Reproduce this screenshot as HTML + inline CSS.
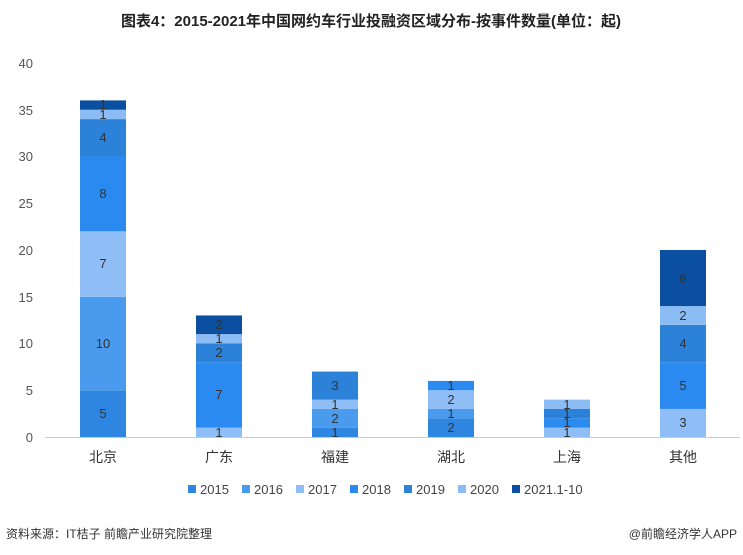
<!DOCTYPE html><html><head><meta charset="utf-8"><style>body{margin:0;background:#fff}svg{display:block}text{font-family:"Liberation Sans","Noto Sans CJK SC",sans-serif}</style></head><body>
<svg width="743" height="555" xmlns="http://www.w3.org/2000/svg">
<text x="371" y="26" text-anchor="middle" font-size="15" font-weight="bold" fill="#222">图表4：2015-2021年中国网约车行业投融资区域分布-按事件数量(单位：起)</text>
<g font-size="13" fill="#555" text-anchor="end">
<text x="33" y="442">0</text><text x="33" y="348">10</text><text x="33" y="255">20</text><text x="33" y="161">30</text><text x="33" y="68">40</text>
<text x="33" y="395">5</text><text x="33" y="302">15</text><text x="33" y="208">25</text><text x="33" y="115">35</text>
</g>
<line x1="45" y1="437.5" x2="740" y2="437.5" stroke="#ccc"/>
<g>
<rect x="80" y="390.25" width="46" height="46.75" fill="#2e86e0"/>
<rect x="80" y="296.75" width="46" height="93.5" fill="#4a9bee"/>
<rect x="80" y="231.3" width="46" height="65.45" fill="#8ebef5"/>
<rect x="80" y="156.5" width="46" height="74.8" fill="#2b8af0"/>
<rect x="80" y="119.1" width="46" height="37.4" fill="#2b82d8"/>
<rect x="80" y="109.75" width="46" height="9.35" fill="#8bbcf4"/>
<rect x="80" y="100.4" width="46" height="9.35" fill="#0a4fa0"/>

<rect x="196" y="427.65" width="46" height="9.35" fill="#8ebef5"/>
<rect x="196" y="362.2" width="46" height="65.45" fill="#2b8af0"/>
<rect x="196" y="343.5" width="46" height="18.7" fill="#2b82d8"/>
<rect x="196" y="334.15" width="46" height="9.35" fill="#8bbcf4"/>
<rect x="196" y="315.45" width="46" height="18.7" fill="#0a4fa0"/>

<rect x="312" y="427.65" width="46" height="9.35" fill="#2e86e0"/>
<rect x="312" y="408.95" width="46" height="18.7" fill="#4a9bee"/>
<rect x="312" y="399.6" width="46" height="9.35" fill="#8ebef5"/>
<rect x="312" y="371.55" width="46" height="28.05" fill="#2b82d8"/>

<rect x="428" y="418.3" width="46" height="18.7" fill="#2e86e0"/>
<rect x="428" y="408.95" width="46" height="9.35" fill="#4a9bee"/>
<rect x="428" y="390.25" width="46" height="18.7" fill="#8ebef5"/>
<rect x="428" y="380.9" width="46" height="9.35" fill="#2b8af0"/>

<rect x="544" y="427.65" width="46" height="9.35" fill="#8ebef5"/>
<rect x="544" y="418.3" width="46" height="9.35" fill="#2b8af0"/>
<rect x="544" y="408.95" width="46" height="9.35" fill="#2b82d8"/>
<rect x="544" y="399.6" width="46" height="9.35" fill="#8bbcf4"/>

<rect x="660" y="408.95" width="46" height="28.05" fill="#8ebef5"/>
<rect x="660" y="362.2" width="46" height="46.75" fill="#2b8af0"/>
<rect x="660" y="324.8" width="46" height="37.4" fill="#2b82d8"/>
<rect x="660" y="306.1" width="46" height="18.7" fill="#8bbcf4"/>
<rect x="660" y="250" width="46" height="56.1" fill="#0a4fa0"/>
</g>
<g font-size="13" fill="#333" text-anchor="middle">
<text x="103" y="418">5</text><text x="103" y="348">10</text><text x="103" y="268">7</text><text x="103" y="198">8</text><text x="103" y="142">4</text><text x="103" y="119">1</text><text x="103" y="109">1</text>
<text x="219" y="437">1</text><text x="219" y="399">7</text><text x="219" y="357">2</text><text x="219" y="343">1</text><text x="219" y="329">2</text>
<text x="335" y="437">1</text><text x="335" y="423">2</text><text x="335" y="409">1</text><text x="335" y="390">3</text>
<text x="451" y="432">2</text><text x="451" y="418">1</text><text x="451" y="404">2</text><text x="451" y="390">1</text>
<text x="567" y="437">1</text><text x="567" y="427">1</text><text x="567" y="418">1</text><text x="567" y="409">1</text>
<text x="683" y="427">3</text><text x="683" y="390">5</text><text x="683" y="348">4</text><text x="683" y="320">2</text><text x="683" y="283">6</text>
</g>
<g font-size="14" fill="#333" text-anchor="middle">
<text x="103" y="462">北京</text><text x="219" y="462">广东</text><text x="335" y="462">福建</text><text x="451" y="462">湖北</text><text x="567" y="462">上海</text><text x="683" y="462">其他</text>
</g>
<g font-size="13" fill="#444">
<rect x="188" y="485" width="8" height="8" fill="#2e86e0"/><text x="200" y="494">2015</text>
<rect x="242" y="485" width="8" height="8" fill="#4a9bee"/><text x="254" y="494">2016</text>
<rect x="296" y="485" width="8" height="8" fill="#8ebef5"/><text x="308" y="494">2017</text>
<rect x="350" y="485" width="8" height="8" fill="#2b8af0"/><text x="362" y="494">2018</text>
<rect x="404" y="485" width="8" height="8" fill="#2b82d8"/><text x="416" y="494">2019</text>
<rect x="458" y="485" width="8" height="8" fill="#8bbcf4"/><text x="470" y="494">2020</text>
<rect x="512" y="485" width="8" height="8" fill="#0a4fa0"/><text x="524" y="494">2021.1-10</text>
</g>
<text x="6" y="538" font-size="12" fill="#333">资料来源：IT桔子 前瞻产业研究院整理</text>
<text x="737" y="538" font-size="12" fill="#333" text-anchor="end">@前瞻经济学人APP</text>
</svg></body></html>
